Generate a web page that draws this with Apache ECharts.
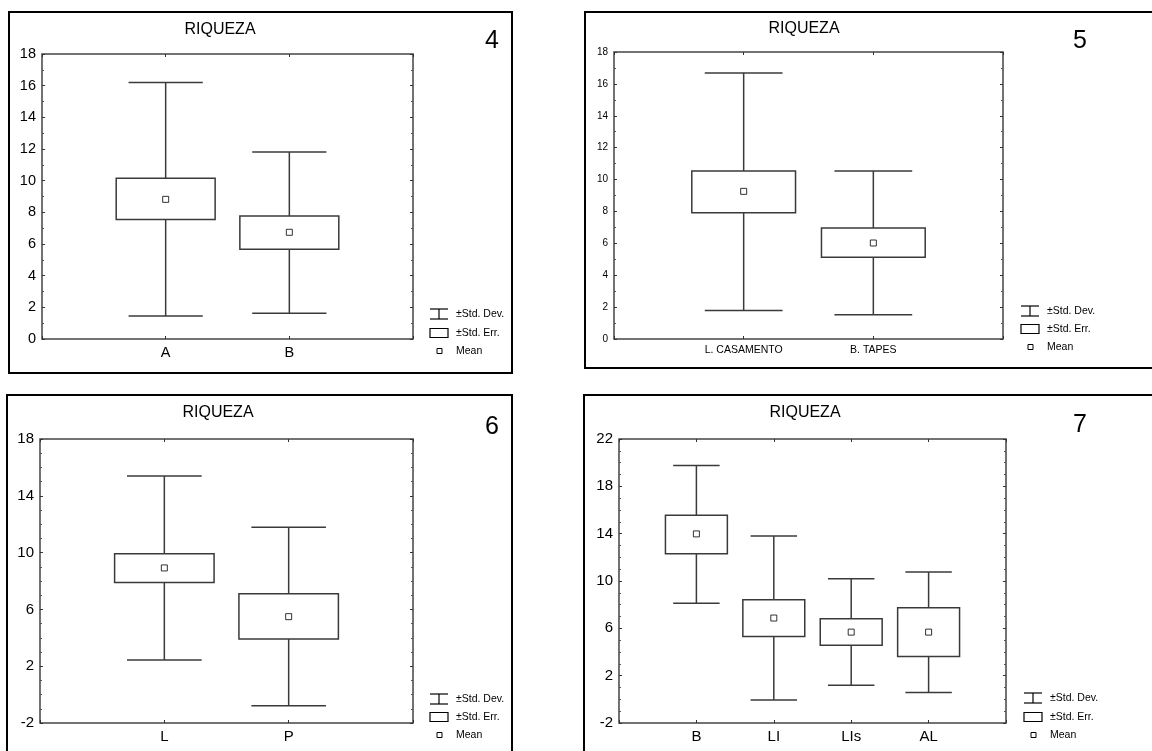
<!DOCTYPE html>
<html>
<head>
<meta charset="utf-8">
<script src="https://cdn.jsdelivr.net/npm/echarts@6/dist/echarts.min.js"></script>
<style>
html, body { margin: 0; padding: 0; background: #fff; }
#container { width: 1152px; height: 751px; }
</style>
</head>
<body>
<div id="container"></div>
<script>
// panel 4
var p4Cats = ['A', 'B'];
var p4Mean = [8.82, 6.74];
var p4SeLow = [7.54, 5.67];
var p4SeHigh = [10.15, 7.77];
var p4SdLow = [1.45, 1.62];
var p4SdHigh = [16.2, 11.81];
// panel 5
var p5Cats = ['L. CASAMENTO', 'B. TAPES'];
var p5Mean = [9.26, 6.02];
var p5SeLow = [7.92, 5.12];
var p5SeHigh = [10.54, 6.96];
var p5SdLow = [1.79, 1.52];
var p5SdHigh = [16.69, 10.54];
// panel 6
var p6Cats = ['L', 'P'];
var p6Mean = [8.92, 5.49];
var p6SeLow = [7.9, 3.92];
var p6SeHigh = [9.92, 7.1];
var p6SdLow = [2.44, -0.78];
var p6SdHigh = [15.39, 11.78];
// panel 7
var p7Cats = ['B', 'LI', 'LIs', 'AL'];
var p7Mean = [13.98, 6.87, 5.68, 5.68];
var p7SeLow = [12.31, 5.32, 4.58, 3.62];
var p7SeHigh = [15.56, 8.42, 6.81, 7.74];
var p7SdLow = [8.11, -0.05, 1.19, 0.57];
var p7SdHigh = [19.76, 13.81, 10.19, 10.76];

var titleText = 'RIQUEZA';
var legendNames = ['\u00b1Std. Dev.', '\u00b1Std. Err.', 'Mean'];

var FONT = 'Liberation Sans, Arial, sans-serif';

var panels = [
    {num: '4', cats: p4Cats, mean: p4Mean, seLo: p4SeLow, seHi: p4SeHigh, sdLo: p4SdLow, sdHi: p4SdHigh,
     ymin: 0, ymax: 18, step: 2, minor: 2, tickFont: 14.5, catFont: 14.5,
     grid: {left: 42, top: 54, width: 371, height: 285},
     frame: [9, 12, 503, 361], title: [220, 30], number: [492, 41], legend: [430, [314, 333, 351]]},
    {num: '5', cats: p5Cats, mean: p5Mean, seLo: p5SeLow, seHi: p5SeHigh, sdLo: p5SdLow, sdHi: p5SdHigh,
     ymin: 0, ymax: 18, step: 2, minor: 2, tickFont: 10, catFont: 10.5,
     grid: {left: 614, top: 52, width: 389, height: 287},
     frame: [585, 12, 600, 356], title: [804, 29], number: [1080, 41], legend: [1021, [311, 329, 347]]},
    {num: '6', cats: p6Cats, mean: p6Mean, seLo: p6SeLow, seHi: p6SeHigh, sdLo: p6SdLow, sdHi: p6SdHigh,
     ymin: -2, ymax: 18, step: 4, minor: 4, tickFont: 15, catFont: 15,
     grid: {left: 40, top: 439, width: 373, height: 284},
     frame: [7, 395, 505, 400], title: [218, 413], number: [492, 427], legend: [430, [699, 717, 735]]},
    {num: '7', cats: p7Cats, mean: p7Mean, seLo: p7SeLow, seHi: p7SeHigh, sdLo: p7SdLow, sdHi: p7SdHigh,
     ymin: -2, ymax: 22, step: 4, minor: 4, tickFont: 15, catFont: 15,
     grid: {left: 619, top: 439, width: 387, height: 284},
     frame: [584, 395, 600, 400], title: [805, 413], number: [1080, 425], legend: [1024, [698, 717, 735]]}
];

var LINE = '#3a3a3a';

function renderWhisker(params, api) {
    var x = api.value(0);
    var lo = api.coord([x, api.value(1)]);
    var hi = api.coord([x, api.value(2)]);
    var half = api.size([1, 0])[0] * 0.3;
    var st = {stroke: LINE, lineWidth: 1.5, fill: null};
    return {type: 'group', children: [
        {type: 'line', shape: {x1: lo[0], y1: lo[1], x2: hi[0], y2: hi[1]}, style: st},
        {type: 'line', shape: {x1: lo[0] - half, y1: lo[1], x2: lo[0] + half, y2: lo[1]}, style: st},
        {type: 'line', shape: {x1: hi[0] - half, y1: hi[1], x2: hi[0] + half, y2: hi[1]}, style: st}
    ]};
}

function renderBox(params, api) {
    var x = api.value(0);
    var lo = api.coord([x, api.value(1)]);
    var hi = api.coord([x, api.value(2)]);
    var half = api.size([1, 0])[0] * 0.4;
    return {type: 'rect',
        shape: {x: lo[0] - half, y: hi[1], width: half * 2, height: lo[1] - hi[1]},
        style: {fill: '#fff', stroke: LINE, lineWidth: 1.5}};
}

var grids = [], xAxes = [], yAxes = [], series = [], graphics = [];

panels.forEach(function (p, i) {
    var n = p.cats.length;
    grids.push({left: p.grid.left, top: p.grid.top, width: p.grid.width, height: p.grid.height,
        show: true, borderColor: '#444', borderWidth: 1.5, backgroundColor: 'transparent'});

    var cats = p.cats;
    var tick = {inside: true, length: 3, lineStyle: {color: '#333'}};
    xAxes.push({type: 'value', gridIndex: i, min: 0, max: n + 1, interval: 1, position: 'bottom',
        splitLine: {show: false}, axisLine: {show: false, onZero: false}, axisTick: tick,
        axisLabel: {fontFamily: FONT, fontSize: p.catFont, color: '#000', margin: 6,
            formatter: function (v) { return cats[v - 1] || ''; }}});
    xAxes.push({type: 'value', gridIndex: i, min: 0, max: n + 1, interval: 1, position: 'top',
        splitLine: {show: false}, axisLine: {show: false, onZero: false}, axisLabel: {show: false},
        axisTick: tick});

    yAxes.push({type: 'value', gridIndex: i, min: p.ymin, max: p.ymax, interval: p.step, position: 'left',
        splitLine: {show: false}, axisLine: {show: false, onZero: false}, axisTick: tick,
        minorTick: {show: true, splitNumber: p.minor, length: 2, lineStyle: {color: '#555'}},
        axisLabel: {fontFamily: FONT, fontSize: p.tickFont, color: '#000', margin: 6}});
    yAxes.push({type: 'value', gridIndex: i, min: p.ymin, max: p.ymax, interval: p.step, position: 'right',
        splitLine: {show: false}, axisLine: {show: false, onZero: false}, axisLabel: {show: false},
        axisTick: tick,
        minorTick: {show: true, splitNumber: p.minor, length: 2, lineStyle: {color: '#555'}}});

    var whiskerData = [], boxData = [], meanData = [];
    for (var k = 0; k < n; k++) {
        whiskerData.push([k + 1, p.sdLo[k], p.sdHi[k]]);
        boxData.push([k + 1, p.seLo[k], p.seHi[k]]);
        meanData.push([k + 1, p.mean[k]]);
    }
    series.push({name: legendNames[0], type: 'custom', xAxisIndex: 2 * i, yAxisIndex: 2 * i,
        renderItem: renderWhisker, data: whiskerData, z: 2});
    series.push({name: legendNames[1], type: 'custom', xAxisIndex: 2 * i, yAxisIndex: 2 * i,
        renderItem: renderBox, data: boxData, z: 3});
    series.push({name: legendNames[2], type: 'scatter', xAxisIndex: 2 * i, yAxisIndex: 2 * i,
        symbol: 'rect', symbolSize: 6, data: meanData, z: 4,
        itemStyle: {color: '#fff', borderColor: '#000', borderWidth: 1}});

    // outer frame
    graphics.push({type: 'rect', shape: {x: p.frame[0], y: p.frame[1], width: p.frame[2], height: p.frame[3]},
        style: {fill: null, stroke: '#000', lineWidth: 2}, z: 0});
    // title and panel number
    graphics.push({type: 'text', x: p.title[0], y: p.title[1],
        style: {text: titleText, font: '16px ' + FONT, fill: '#000', textAlign: 'center', textVerticalAlign: 'middle'}});
    graphics.push({type: 'text', x: p.number[0], y: p.number[1],
        style: {text: p.num, font: '25px ' + FONT, fill: '#000', textAlign: 'center', textVerticalAlign: 'middle'}});

    // legend
    var lx = p.legend[0], ly = p.legend[1];
    graphics.push({type: 'polyline', shape: {points: [[lx, ly[0] - 5], [lx + 18, ly[0] - 5]]}, style: {stroke: '#000', lineWidth: 1.2}});
    graphics.push({type: 'polyline', shape: {points: [[lx + 9, ly[0] - 5], [lx + 9, ly[0] + 5]]}, style: {stroke: '#000', lineWidth: 1.2}});
    graphics.push({type: 'polyline', shape: {points: [[lx, ly[0] + 5], [lx + 18, ly[0] + 5]]}, style: {stroke: '#000', lineWidth: 1.2}});
    graphics.push({type: 'rect', shape: {x: lx, y: ly[1] - 4.5, width: 18, height: 9}, style: {fill: '#fff', stroke: '#000', lineWidth: 1.2}});
    graphics.push({type: 'rect', shape: {x: lx + 7, y: ly[2] - 2.5, width: 5, height: 5}, style: {fill: '#fff', stroke: '#000', lineWidth: 1}});
    for (var j = 0; j < 3; j++) {
        graphics.push({type: 'text', x: lx + 26, y: ly[j],
            style: {text: legendNames[j], font: '10.5px ' + FONT, fill: '#000', textAlign: 'left', textVerticalAlign: 'middle'}});
    }
});

var dom = document.getElementById('container');
var myChart = echarts.init(dom, null, {renderer: 'canvas'});
var option = {
    animation: false,
    backgroundColor: '#fff',
    grid: grids,
    xAxis: xAxes,
    yAxis: yAxes,
    series: series,
    graphic: graphics
};
myChart.setOption(option, true);
</script>
</body>
</html>
